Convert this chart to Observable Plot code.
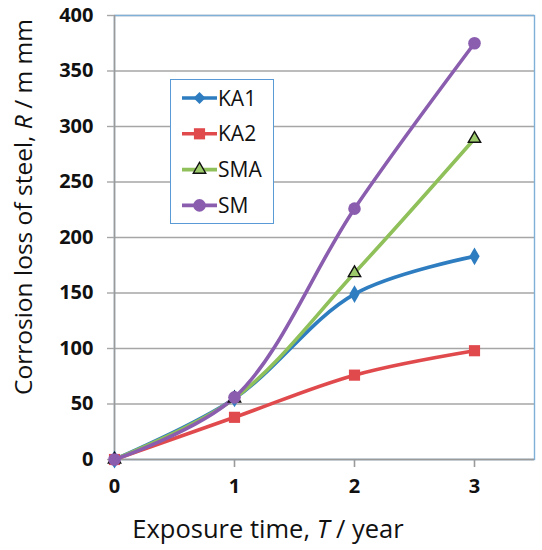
<!DOCTYPE html>
<html><head>
<meta charset="utf-8">
<script src="https://cdn.jsdelivr.net/npm/d3@7"></script>
<script src="https://cdn.jsdelivr.net/npm/@observablehq/plot@0.6"></script>
<style>
body{margin:0;background:#fff;}
#wrap{position:relative;width:542px;height:550px;font-family:"Open Sans",sans-serif;}
.ylab{position:absolute;left:22px;top:207px;transform:translate(-50%,-50%) rotate(-90deg);white-space:nowrap;font-size:24.5px;color:#111;}
.xlab{position:absolute;left:268px;top:528px;transform:translate(-50%,-50%);white-space:nowrap;font-size:25.5px;color:#111;}
#legend{position:absolute;left:170px;top:79px;width:104px;height:145px;border:1.5px solid #5b9bd5;background:#fff;box-sizing:border-box;}
</style>
</head><body>
<div id="wrap"></div>
<script>
const years = [0, 1, 2, 3];
const seriesNames = ["KA1", "KA2", "SMA", "SM"];
const KA1 = [0, 55, 149, 183];
const KA2 = [0, 38, 76, 98];
const SMA = [0, 55, 168, 289];
const SM  = [0, 56, 226, 375];
const xTicks = [0, 1, 2, 3];
const yTicks = [0, 50, 100, 150, 200, 250, 300, 350, 400];

const colors = {KA1: "#2e7dc0", KA2: "#e04a4d", SMA: "#8fc05a", SM: "#8a5daf"};
const symbols = {KA1: "diamond", KA2: "square", SMA: "triangle", SM: "circle"};
const radii = {KA1: 5.4, KA2: 6.3, SMA: 4.6, SM: 6.3};
const fills = {KA1: "#2e7dc0", KA2: "#e04a4d", SMA: "#9dcb6b", SM: "#8a5daf"};

const valuesBy = {KA1, KA2, SMA, SM};
const rows = [];
for (const s of seriesNames) years.forEach((t, i) => rows.push({series: s, t, r: valuesBy[s][i]}));

const marks = [
  Plot.gridY(yTicks, {stroke: "#a6a6a6", strokeOpacity: 1, strokeWidth: 1.4}),
  Plot.frame({stroke: "#7fb0d8", strokeWidth: 1.4}),
  Plot.ruleX([0], {stroke: "#9a9a9a", strokeWidth: 1.6}),
  Plot.ruleY([0], {stroke: "#9a9a9a", strokeWidth: 1.6}),
  Plot.axisY(yTicks, {tickSize: 7, tickPadding: 14, stroke: "#a6a6a6", strokeWidth: 1.4, fontSize: 20, fontWeight: "bold", fill: "#111", label: null, tickFormat: "d"}),
  Plot.axisX(xTicks, {tickSize: 8, tickPadding: 11, stroke: "#9a9a9a", strokeWidth: 1.6, fontSize: 20, fontWeight: "bold", fill: "#111", label: null, tickFormat: "d"}),
];
for (const s of seriesNames) {
  const d = rows.filter(r => r.series === s);
  marks.push(Plot.line(d, {x: "t", y: "r", stroke: colors[s], strokeWidth: 3.6, curve: "catmull-rom"}));
}
for (const s of seriesNames) {
  const d = rows.filter(r => r.series === s);
  marks.push(Plot.dot(d, {x: "t", y: "r", symbol: symbols[s], r: radii[s], fill: fills[s],
    stroke: s === "SMA" ? "#111" : "none", strokeWidth: s === "SMA" ? 1.4 : 0}));
}

const chart = Plot.plot({
  width: 542, height: 550,
  marginLeft: 114, marginRight: 8, marginTop: 15, marginBottom: 91,
  x: {domain: [0, 3.5], label: null},
  y: {domain: [0, 400], label: null},
  style: {fontFamily: "'Open Sans', sans-serif", background: "#fff", overflow: "visible"},
  marks
});
const wrap = document.getElementById("wrap");
wrap.appendChild(chart);

const yl = document.createElement("div");
yl.className = "ylab";
yl.innerHTML = "Corrosion loss of steel, <i>R</i> / m mm";
wrap.appendChild(yl);
const xl = document.createElement("div");
xl.className = "xlab";
xl.innerHTML = "Exposure time, <i>T</i> / year";
wrap.appendChild(xl);

// legend
const leg = document.createElement("div");
leg.id = "legend";
wrap.appendChild(leg);
const lsvg = d3.select(leg).append("svg").attr("width", 101).attr("height", 142).style("display", "block");
seriesNames.forEach((s, i) => {
  const cy = 18 + i * 35.8;
  const g = lsvg.append("g");
  g.append("line").attr("x1", 11).attr("x2", 46).attr("y1", cy).attr("y2", cy)
    .attr("stroke", colors[s]).attr("stroke-width", 3.6);
  const symMap = {diamond: d3.symbolDiamond2, square: d3.symbolSquare, triangle: d3.symbolTriangle, circle: d3.symbolCircle};
  g.append("path").attr("d", d3.symbol(symMap[symbols[s]], radii[s] * radii[s] * Math.PI)())
    .attr("transform", `translate(28.5,${cy})`)
    .attr("fill", fills[s]).attr("stroke", s === "SMA" ? "#111" : "none").attr("stroke-width", 1.4);
  g.append("text").attr("x", 47).attr("y", cy).attr("dy", "0.36em")
    .attr("font-size", 21).attr("font-family", "'Open Sans', sans-serif").attr("fill", "#111").text(s);
});
</script>
</body></html>
